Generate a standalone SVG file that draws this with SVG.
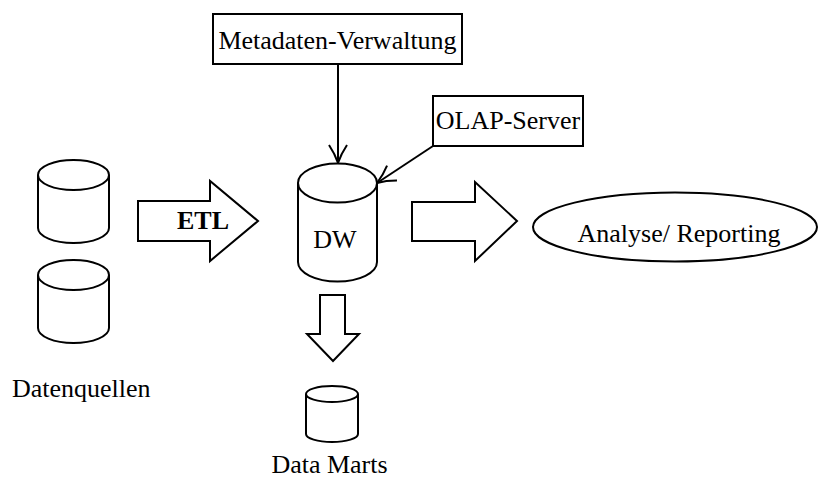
<svg xmlns="http://www.w3.org/2000/svg" width="818" height="480" viewBox="0 0 818 480">
  <style>
    .shape { fill: #ffffff; stroke: #000000; stroke-width: 2; }
    .line { fill: none; stroke: #000000; stroke-width: 2; }
    .label { font-family: "Liberation Serif", "Times New Roman", serif; font-size: 26px; fill: #000000; }
    .bold { font-weight: bold; }
  </style>
  <defs>
    <marker id="open-arrow" viewBox="0 0 20 20" refX="19" refY="10" markerWidth="20" markerHeight="20" markerUnits="userSpaceOnUse" orient="auto">
      <path d="M1,1 Q10,7 19,10 Q10,13 1,19" fill="none" stroke="#000000" stroke-width="2"/>
    </marker>
  </defs>

  <!-- Data sources -->
  <g id="source-1">
    <path class="shape" d="M38,175 L38,228 A35.5,15 0 0 0 109,228 L109,175 A35.5,15 0 0 0 38,175 Z"/>
    <path class="line" d="M38,175 A35.5,15 0 0 0 109,175"/>
  </g>
  <g id="source-2">
    <path class="shape" d="M38,275 L38,328 A35.5,15 0 0 0 109,328 L109,275 A35.5,15 0 0 0 38,275 Z"/>
    <path class="line" d="M38,275 A35.5,15 0 0 0 109,275"/>
  </g>
  <g id="sources-label">
    <text class="label" x="12" y="397">Datenquellen</text>
  </g>

  <!-- ETL block arrow -->
  <g id="etl">
    <path class="shape" d="M138,201 L210,201 L210,181 L258,221 L210,261 L210,241 L138,241 Z"/>
    <text class="label bold" x="203" y="229" text-anchor="middle" font-size="25">ETL</text>
  </g>

  <!-- Data warehouse -->
  <g id="dw">
    <path class="shape" d="M298,183 L298,262 A39.5,19.5 0 0 0 377,262 L377,183 A39.5,19.5 0 0 0 298,183 Z"/>
    <path class="line" d="M298,183 A39.5,19.5 0 0 0 377,183"/>
    <text class="label" x="335" y="248" text-anchor="middle">DW</text>
  </g>

  <!-- Metadata management -->
  <g id="metadaten">
    <rect class="shape" x="213" y="14" width="249" height="50"/>
    <text class="label" x="337.5" y="49" text-anchor="middle">Metadaten-Verwaltung</text>
  </g>

  <!-- OLAP server -->
  <g id="olap">
    <rect class="shape" x="433" y="96" width="150" height="50"/>
    <text class="label" x="508" y="129" text-anchor="middle">OLAP-Server</text>
  </g>

  <!-- Output block arrow -->
  <g id="output-arrow">
    <path class="shape" d="M412,202 L475,202 L475,182 L517,221 L475,261 L475,241 L412,241 Z"/>
  </g>

  <!-- Analysis / reporting -->
  <g id="analyse">
    <ellipse class="shape" cx="675" cy="227" rx="142" ry="34.5"/>
    <text class="label" x="679" y="242" text-anchor="middle">Analyse/ Reporting</text>
  </g>

  <!-- Down block arrow to data marts -->
  <g id="down-arrow">
    <path class="shape" d="M320,295 L345,295 L345,334 L359,334 L333,361 L307,334 L320,334 Z"/>
  </g>

  <!-- Data marts -->
  <g id="data-marts">
    <path class="shape" d="M306,394 L306,434 A26,8 0 0 0 358,434 L358,394 A26,8 0 0 0 306,394 Z"/>
    <path class="line" d="M306,394 A26,8 0 0 0 358,394"/>
    <text class="label" x="329.5" y="473" text-anchor="middle">Data Marts</text>
  </g>

  <!-- Connectors -->
  <g id="connectors">
    <line class="line" x1="338" y1="64" x2="338" y2="163" marker-end="url(#open-arrow)"/>
    <line class="line" x1="433" y1="146" x2="377" y2="183" marker-end="url(#open-arrow)"/>
  </g>
</svg>
